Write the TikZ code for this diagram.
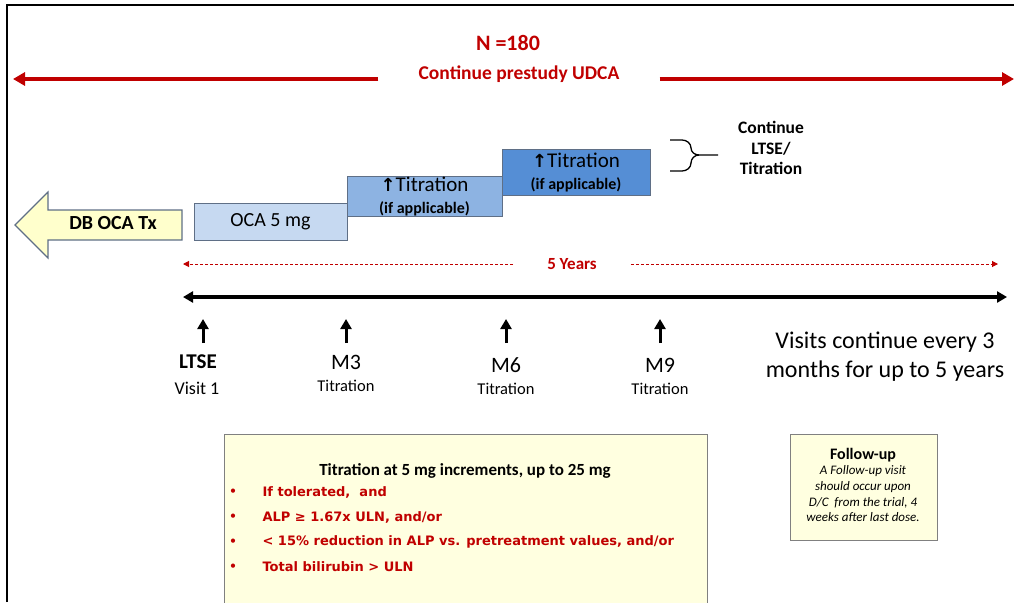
\documentclass[tikz,border=0pt]{standalone}
\usepackage{fontspec}
\setmainfont{Carlito}
\newfontfamily\symfont{DejaVu Sans}
\usetikzlibrary{arrows.meta,positioning}

\definecolor{udcared}{HTML}{C00000}
\definecolor{ocaone}{HTML}{C6D9F1}
\definecolor{ocatwo}{HTML}{8DB3E2}
\definecolor{ocathree}{HTML}{558ED5}
\definecolor{boxedge}{HTML}{5F6F86}
\definecolor{dbyellow}{HTML}{FFFFCC}
\definecolor{noteyellow}{HTML}{FFFFE0}

\newcommand{\fs}[2]{\fontsize{#1}{#2}\selectfont}

\begin{document}
\begin{tikzpicture}[x=1pt, y=-1pt,
    dose/.style={
        draw=boxedge,
        line width=1pt,
        align=center,
        inner sep=0pt,
        font=\fs{21}{22}
    },
    note/.style={
        draw=gray,
        line width=1.2pt,
        fill=noteyellow,
        inner sep=0pt,
        anchor=north west
    },
    redarrow/.style={
        udcared,
        line width=4.5pt,
        -{Triangle[length=12pt,width=13pt]}
    },
    yeararrow/.style={
        udcared,
        line width=1pt,
        dash pattern=on 3pt off 2pt,
        -{Triangle[length=6pt,width=6pt]}
    },
    uparrow/.style={
        line width=3pt,
        -{Triangle[length=10pt,width=11pt]}
    },
    bullettext/.style={
        anchor=west,
        text=udcared,
        font=\symfont\bfseries\fs{13}{15}
    }
]
\useasboundingbox (0,0) rectangle (1019,602);

%------------------------------------------------
% Marco
%------------------------------------------------
\draw[line width=2pt] (7,602) -- (7,5) -- (1014,5);

%------------------------------------------------
% UDCA
%------------------------------------------------
\node[text=udcared, font=\bfseries\fs{22}{24}] (nn) at (508,43) {N =180};
\node[text=udcared, font=\bfseries\fs{19.5}{22}, inner xsep=40pt] (udca) at (519,74) {Continue prestudy UDCA};
\coordinate (udcaL) at (13,79);
\coordinate (udcaR) at (1014,79);
\draw[redarrow] (udca.west |- udcaL) -- (udcaL);
\draw[redarrow] (udca.east |- udcaR) -- (udcaR);

%------------------------------------------------
% Tratamiento
%------------------------------------------------
\draw[draw=boxedge, line width=1.2pt, fill=dbyellow]
    (182,210) -- (48,210) -- (48,192) -- (15,225) -- (48,258) -- (48,240) -- (182,240) -- cycle;
\node[font=\bfseries\fs{20}{22}] (db) at (113,223) {DB OCA Tx};

\node[dose, fill=ocaone, minimum width=153pt, minimum height=37pt, font=\fs{20}{22}]
    (oca) at (270.5,221.5) {OCA 5 mg};
\node[dose, fill=ocatwo, minimum width=155pt, minimum height=40pt]
    (titone) at (424.5,196) {{\symfont\bfseries\fs{18}{22}↑}Titration\\{\bfseries\fs{16}{18}(if applicable)}};
\node[dose, fill=ocathree, minimum width=148pt, minimum height=46pt]
    (tittwo) at (576,172) {{\symfont\bfseries\fs{18}{22}↑}Titration\\{\bfseries\fs{16}{18}(if applicable)}};

% llave
\node[align=center, font=\bfseries\fs{17.5}{20.5}] (cont) at (771,148)
    {Continue\\LTSE/\\Titration};
\coordinate (bracetip) at (718,155);
\draw[line width=1.3pt] (670,140) -- (682,140) to[out=0,in=90] (691,148)
    to[out=-90,in=180] (699,155) -- (bracetip);
\draw[line width=1.3pt] (670,171) -- (682,171) to[out=0,in=-90] (691,163)
    to[out=90,in=180] (699,155);

%------------------------------------------------
% Linea de tiempo
%------------------------------------------------
\node[text=udcared, font=\bfseries\fs{17}{19}, inner xsep=34pt] (years) at (572,264) {5 Years};
\coordinate (yearsL) at (183,264);
\coordinate (yearsR) at (998,264);
\draw[yeararrow] (years.west) -- (yearsL);
\draw[yeararrow] (years.east) -- (yearsR);

\coordinate (timeL) at (183,297);
\coordinate (timeR) at (1007,297);
\draw[line width=3.5pt, {Triangle[length=10pt,width=11pt]}-{Triangle[length=10pt,width=11pt]}]
    (timeL) -- (timeR);

\node[font=\bfseries\fs{21}{24}] (ltse) at (198,362) {LTSE};
\node[font=\fs{18}{20}] (ltsesub) at (197,388) {Visit 1};
\foreach \x/\y/\name/\lab in {346/362/mthree/M3, 506/365/msix/M6, 660/365/mnine/M9} {
    \node[font=\fs{22}{24}] (\name) at (\x,\y) {\lab};
    \node[font=\fs{16.5}{18}] (\name sub) at (\x,\y+24) {Titration};
}
\foreach \x/\name in {203/ltse, 346/mthree, 506/msix, 660/mnine} {
    \coordinate (\name tip) at (\x,319);
    \coordinate (\name foot) at (\x,343);
    \draw[uparrow] (\name foot) -- (\name tip);
}

\node[align=center, font=\fs{24}{29}] (every) at (885,357)
    {Visits continue every 3\\months for up to 5 years};

%------------------------------------------------
% Cuadros de notas
%------------------------------------------------
\node[note, minimum width=483pt, minimum height=180pt] (titbox) at (224,434) {};
\node[font=\bfseries\fs{17}{19}] (tittitle) at (465,471) {Titration at 5 mg increments, up to 25 mg};
\foreach \y/\name/\txt in {492/ba/{If tolerated,\ \ and},
                           517/bb/{ALP ≥ 1.67x ULN, and/or},
                           542/bc/{< 15\% reduction in ALP vs. pretreatment values, and/or},
                           567/bd/{Total bilirubin > ULN}} {
    \node[text=udcared, font=\fs{12}{14}] (\name dot) at (233,\y) {•};
    \node[bullettext] (\name) at (259,\y) {\txt};
}

\node[note, minimum width=147pt, minimum height=106pt] (follow) at (790,434) {};
\node[align=center, font=\itshape\fs{13}{15.7}, inner sep=0pt] (followtxt) at (863,485)
    {{\upshape\bfseries\fs{16}{17}Follow-up}\\
     A Follow-up visit\\
     should occur upon\\
     D/C\ \ from the trial, 4\\
     weeks after last dose.};

\end{tikzpicture}
\end{document}
